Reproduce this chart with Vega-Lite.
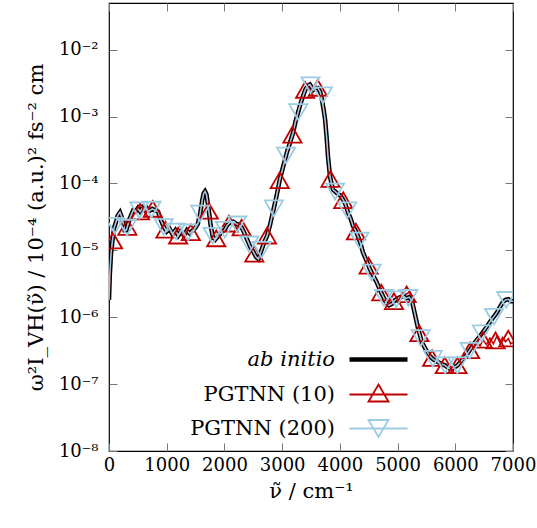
{
  "$schema": "https://vega.github.io/schema/vega-lite/v6.json",
  "width": 404,
  "height": 448,
  "autosize": {"type": "none"},
  "padding": {"left": 109, "top": 3, "right": 24, "bottom": 77},
  "config": {
    "view": {"stroke": "#000000", "strokeWidth": 1.2},
    "font": "DejaVu Serif",
    "axis": {
      "grid": false,
      "domain": false,
      "tickColor": "#777777",
      "tickWidth": 1,
      "tickSize": -8,
      "labelFont": "DejaVu Serif",
      "labelFontSize": 18,
      "labelColor": "#000000",
      "labelFlush": false,
      "labelOverlap": false,
      "titleFont": "DejaVu Serif",
      "titleFontSize": 21,
      "titleFontWeight": "normal",
      "titleColor": "#000000"
    }
  },
  "datasets": {
    "curves": [
      {"v": 0, "ab initio": 1.82e-6, "PGTNN (10)": 1.82e-6, "PGTNN (200)": 1.82e-6},
      {"v": 15, "ab initio": 4.47e-6, "PGTNN (10)": 4.47e-6, "PGTNN (200)": 4.47e-6},
      {"v": 35, "ab initio": 8.91e-6, "PGTNN (10)": 8.91e-6, "PGTNN (200)": 8.91e-6},
      {"v": 60, "ab initio": 1.41e-5, "PGTNN (10)": 1.41e-5, "PGTNN (200)": 1.41e-5},
      {"v": 90, "ab initio": 2.19e-5, "PGTNN (10)": 2.19e-5, "PGTNN (200)": 2.19e-5},
      {"v": 120, "ab initio": 2.63e-5, "PGTNN (10)": 2.63e-5, "PGTNN (200)": 2.63e-5},
      {"v": 150, "ab initio": 3.31e-5, "PGTNN (10)": 3.31e-5, "PGTNN (200)": 3.31e-5},
      {"v": 190, "ab initio": 3.72e-5, "PGTNN (10)": 3.72e-5, "PGTNN (200)": 3.72e-5},
      {"v": 230, "ab initio": 3.02e-5, "PGTNN (10)": 3.02e-5, "PGTNN (200)": 3.02e-5},
      {"v": 270, "ab initio": 2.0e-5, "PGTNN (10)": 2.0e-5, "PGTNN (200)": 2.0e-5},
      {"v": 300, "ab initio": 2.0e-5, "PGTNN (10)": 2.0e-5, "PGTNN (200)": 2.0e-5},
      {"v": 340, "ab initio": 2.63e-5, "PGTNN (10)": 2.63e-5, "PGTNN (200)": 2.63e-5},
      {"v": 380, "ab initio": 3.31e-5, "PGTNN (10)": 3.31e-5, "PGTNN (200)": 3.31e-5},
      {"v": 420, "ab initio": 3.98e-5, "PGTNN (10)": 3.98e-5, "PGTNN (200)": 3.98e-5},
      {"v": 460, "ab initio": 3.8e-5, "PGTNN (10)": 3.8e-5, "PGTNN (200)": 3.8e-5},
      {"v": 500, "ab initio": 4.27e-5, "PGTNN (10)": 4.27e-5, "PGTNN (200)": 4.27e-5},
      {"v": 540, "ab initio": 3.8e-5, "PGTNN (10)": 3.8e-5, "PGTNN (200)": 3.8e-5},
      {"v": 580, "ab initio": 4.37e-5, "PGTNN (10)": 4.37e-5, "PGTNN (200)": 4.37e-5},
      {"v": 620, "ab initio": 3.98e-5, "PGTNN (10)": 3.98e-5, "PGTNN (200)": 3.98e-5},
      {"v": 660, "ab initio": 4.27e-5, "PGTNN (10)": 4.27e-5, "PGTNN (200)": 4.27e-5},
      {"v": 700, "ab initio": 3.89e-5, "PGTNN (10)": 3.89e-5, "PGTNN (200)": 3.89e-5},
      {"v": 750, "ab initio": 4.17e-5, "PGTNN (10)": 4.17e-5, "PGTNN (200)": 4.17e-5},
      {"v": 800, "ab initio": 3.98e-5, "PGTNN (10)": 3.98e-5, "PGTNN (200)": 3.98e-5},
      {"v": 850, "ab initio": 3.8e-5, "PGTNN (10)": 3.8e-5, "PGTNN (200)": 3.8e-5},
      {"v": 900, "ab initio": 2.82e-5, "PGTNN (10)": 2.82e-5, "PGTNN (200)": 2.82e-5},
      {"v": 950, "ab initio": 2.24e-5, "PGTNN (10)": 2.24e-5, "PGTNN (200)": 2.24e-5},
      {"v": 1000, "ab initio": 1.91e-5, "PGTNN (10)": 1.91e-5, "PGTNN (200)": 1.91e-5},
      {"v": 1050, "ab initio": 2.09e-5, "PGTNN (10)": 2.09e-5, "PGTNN (200)": 2.09e-5},
      {"v": 1100, "ab initio": 1.74e-5, "PGTNN (10)": 1.74e-5, "PGTNN (200)": 1.74e-5},
      {"v": 1150, "ab initio": 2.0e-5, "PGTNN (10)": 2.0e-5, "PGTNN (200)": 2.0e-5},
      {"v": 1200, "ab initio": 1.66e-5, "PGTNN (10)": 1.66e-5, "PGTNN (200)": 1.66e-5},
      {"v": 1250, "ab initio": 1.91e-5, "PGTNN (10)": 1.91e-5, "PGTNN (200)": 1.91e-5},
      {"v": 1300, "ab initio": 1.66e-5, "PGTNN (10)": 1.66e-5, "PGTNN (200)": 1.66e-5},
      {"v": 1350, "ab initio": 2.0e-5, "PGTNN (10)": 2.0e-5, "PGTNN (200)": 2.0e-5},
      {"v": 1400, "ab initio": 1.78e-5, "PGTNN (10)": 1.78e-5, "PGTNN (200)": 1.78e-5},
      {"v": 1450, "ab initio": 2.0e-5, "PGTNN (10)": 2.0e-5, "PGTNN (200)": 2.0e-5},
      {"v": 1500, "ab initio": 2.19e-5, "PGTNN (10)": 2.19e-5, "PGTNN (200)": 2.19e-5},
      {"v": 1540, "ab initio": 2.51e-5, "PGTNN (10)": 2.51e-5, "PGTNN (200)": 2.51e-5},
      {"v": 1580, "ab initio": 3.55e-5, "PGTNN (10)": 3.55e-5, "PGTNN (200)": 3.55e-5},
      {"v": 1615, "ab initio": 5.6e-5, "PGTNN (10)": 5.6e-5, "PGTNN (200)": 5.6e-5},
      {"v": 1640, "ab initio": 7.1e-5, "PGTNN (10)": 7.1e-5, "PGTNN (200)": 7.1e-5},
      {"v": 1664, "ab initio": 7.6e-5, "PGTNN (10)": 7.6e-5, "PGTNN (200)": 7.6e-5},
      {"v": 1688, "ab initio": 6.9e-5, "PGTNN (10)": 6.9e-5, "PGTNN (200)": 6.9e-5},
      {"v": 1710, "ab initio": 5.2e-5, "PGTNN (10)": 5.2e-5, "PGTNN (200)": 5.2e-5},
      {"v": 1735, "ab initio": 3.6e-5, "PGTNN (10)": 3.6e-5, "PGTNN (200)": 3.6e-5},
      {"v": 1760, "ab initio": 2.4e-5, "PGTNN (10)": 2.4e-5, "PGTNN (200)": 2.4e-5},
      {"v": 1800, "ab initio": 1.58e-5, "PGTNN (10)": 1.58e-5, "PGTNN (200)": 1.58e-5},
      {"v": 1840, "ab initio": 1.45e-5, "PGTNN (10)": 1.45e-5, "PGTNN (200)": 1.45e-5},
      {"v": 1880, "ab initio": 1.58e-5, "PGTNN (10)": 1.58e-5, "PGTNN (200)": 1.58e-5},
      {"v": 1920, "ab initio": 1.74e-5, "PGTNN (10)": 1.74e-5, "PGTNN (200)": 1.74e-5},
      {"v": 1960, "ab initio": 1.91e-5, "PGTNN (10)": 1.91e-5, "PGTNN (200)": 1.91e-5},
      {"v": 2000, "ab initio": 2.0e-5, "PGTNN (10)": 2.0e-5, "PGTNN (200)": 2.0e-5},
      {"v": 2050, "ab initio": 2.4e-5, "PGTNN (10)": 2.4e-5, "PGTNN (200)": 2.4e-5},
      {"v": 2100, "ab initio": 2.63e-5, "PGTNN (10)": 2.63e-5, "PGTNN (200)": 2.63e-5},
      {"v": 2150, "ab initio": 2.69e-5, "PGTNN (10)": 2.69e-5, "PGTNN (200)": 2.69e-5},
      {"v": 2200, "ab initio": 2.51e-5, "PGTNN (10)": 2.51e-5, "PGTNN (200)": 2.51e-5},
      {"v": 2250, "ab initio": 2.4e-5, "PGTNN (10)": 2.4e-5, "PGTNN (200)": 2.4e-5},
      {"v": 2300, "ab initio": 2.19e-5, "PGTNN (10)": 2.19e-5, "PGTNN (200)": 2.19e-5},
      {"v": 2350, "ab initio": 1.78e-5, "PGTNN (10)": 1.78e-5, "PGTNN (200)": 1.78e-5},
      {"v": 2400, "ab initio": 1.41e-5, "PGTNN (10)": 1.41e-5, "PGTNN (200)": 1.41e-5},
      {"v": 2450, "ab initio": 1.12e-5, "PGTNN (10)": 1.12e-5, "PGTNN (200)": 1.12e-5},
      {"v": 2500, "ab initio": 9.55e-6, "PGTNN (10)": 9.55e-6, "PGTNN (200)": 9.55e-6},
      {"v": 2550, "ab initio": 7.94e-6, "PGTNN (10)": 7.94e-6, "PGTNN (200)": 7.94e-6},
      {"v": 2590, "ab initio": 7.41e-6, "PGTNN (10)": 7.41e-6, "PGTNN (200)": 7.41e-6},
      {"v": 2640, "ab initio": 1.0e-5, "PGTNN (10)": 1.0e-5, "PGTNN (200)": 1.0e-5},
      {"v": 2690, "ab initio": 1.32e-5, "PGTNN (10)": 1.32e-5, "PGTNN (200)": 1.32e-5},
      {"v": 2740, "ab initio": 1.66e-5, "PGTNN (10)": 1.66e-5, "PGTNN (200)": 1.66e-5},
      {"v": 2790, "ab initio": 2.4e-5, "PGTNN (10)": 2.4e-5, "PGTNN (200)": 2.4e-5},
      {"v": 2840, "ab initio": 3.72e-5, "PGTNN (10)": 3.72e-5, "PGTNN (200)": 3.72e-5},
      {"v": 2900, "ab initio": 6.31e-5, "PGTNN (10)": 6.31e-5, "PGTNN (200)": 6.31e-5},
      {"v": 2960, "ab initio": 1.15e-4, "PGTNN (10)": 1.15e-4, "PGTNN (200)": 1.15e-4},
      {"v": 3020, "ab initio": 1.82e-4, "PGTNN (10)": 1.82e-4, "PGTNN (200)": 1.82e-4},
      {"v": 3080, "ab initio": 2.88e-4, "PGTNN (10)": 2.88e-4, "PGTNN (200)": 2.88e-4},
      {"v": 3140, "ab initio": 4.17e-4, "PGTNN (10)": 4.17e-4, "PGTNN (200)": 4.17e-4},
      {"v": 3190, "ab initio": 5.75e-4, "PGTNN (10)": 5.75e-4, "PGTNN (200)": 5.75e-4},
      {"v": 3230, "ab initio": 8.32e-4, "PGTNN (10)": 8.32e-4, "PGTNN (200)": 8.32e-4},
      {"v": 3275, "ab initio": 1.15e-3, "PGTNN (10)": 1.15e-3, "PGTNN (200)": 1.15e-3},
      {"v": 3320, "ab initio": 1.58e-3, "PGTNN (10)": 1.58e-3, "PGTNN (200)": 1.58e-3},
      {"v": 3360, "ab initio": 2.0e-3, "PGTNN (10)": 2.0e-3, "PGTNN (200)": 2.0e-3},
      {"v": 3400, "ab initio": 2.51e-3, "PGTNN (10)": 2.51e-3, "PGTNN (200)": 2.51e-3},
      {"v": 3440, "ab initio": 2.88e-3, "PGTNN (10)": 2.88e-3, "PGTNN (200)": 2.88e-3},
      {"v": 3480, "ab initio": 3.02e-3, "PGTNN (10)": 3.02e-3, "PGTNN (200)": 3.02e-3},
      {"v": 3510, "ab initio": 2.75e-3, "PGTNN (10)": 2.75e-3, "PGTNN (200)": 2.75e-3},
      {"v": 3540, "ab initio": 2.51e-3, "PGTNN (10)": 2.51e-3, "PGTNN (200)": 2.51e-3},
      {"v": 3580, "ab initio": 2.69e-3, "PGTNN (10)": 2.69e-3, "PGTNN (200)": 2.69e-3},
      {"v": 3620, "ab initio": 2.69e-3, "PGTNN (10)": 2.69e-3, "PGTNN (200)": 2.69e-3},
      {"v": 3660, "ab initio": 2.34e-3, "PGTNN (10)": 2.34e-3, "PGTNN (200)": 2.34e-3},
      {"v": 3690, "ab initio": 1.78e-3, "PGTNN (10)": 1.78e-3, "PGTNN (200)": 1.78e-3},
      {"v": 3720, "ab initio": 1.26e-3, "PGTNN (10)": 1.26e-3, "PGTNN (200)": 1.26e-3},
      {"v": 3745, "ab initio": 8.91e-4, "PGTNN (10)": 8.91e-4, "PGTNN (200)": 8.91e-4},
      {"v": 3770, "ab initio": 5.01e-4, "PGTNN (10)": 5.01e-4, "PGTNN (200)": 5.01e-4},
      {"v": 3795, "ab initio": 2.51e-4, "PGTNN (10)": 2.51e-4, "PGTNN (200)": 2.51e-4},
      {"v": 3830, "ab initio": 1.26e-4, "PGTNN (10)": 1.26e-4, "PGTNN (200)": 1.26e-4},
      {"v": 3880, "ab initio": 8.13e-5, "PGTNN (10)": 8.13e-5, "PGTNN (200)": 8.13e-5},
      {"v": 3920, "ab initio": 7.59e-5, "PGTNN (10)": 7.59e-5, "PGTNN (200)": 7.59e-5},
      {"v": 3970, "ab initio": 6.92e-5, "PGTNN (10)": 6.92e-5, "PGTNN (200)": 6.92e-5},
      {"v": 4010, "ab initio": 6.61e-5, "PGTNN (10)": 6.61e-5, "PGTNN (200)": 6.61e-5},
      {"v": 4055, "ab initio": 5.75e-5, "PGTNN (10)": 5.75e-5, "PGTNN (200)": 5.75e-5},
      {"v": 4100, "ab initio": 4.79e-5, "PGTNN (10)": 4.79e-5, "PGTNN (200)": 4.79e-5},
      {"v": 4140, "ab initio": 3.72e-5, "PGTNN (10)": 3.72e-5, "PGTNN (200)": 3.72e-5},
      {"v": 4185, "ab initio": 3.02e-5, "PGTNN (10)": 3.02e-5, "PGTNN (200)": 3.02e-5},
      {"v": 4230, "ab initio": 2.29e-5, "PGTNN (10)": 2.29e-5, "PGTNN (200)": 2.29e-5},
      {"v": 4270, "ab initio": 2.0e-5, "PGTNN (10)": 2.0e-5, "PGTNN (200)": 2.0e-5},
      {"v": 4315, "ab initio": 1.62e-5, "PGTNN (10)": 1.62e-5, "PGTNN (200)": 1.62e-5},
      {"v": 4360, "ab initio": 1.26e-5, "PGTNN (10)": 1.26e-5, "PGTNN (200)": 1.26e-5},
      {"v": 4400, "ab initio": 9.33e-6, "PGTNN (10)": 9.33e-6, "PGTNN (200)": 9.33e-6},
      {"v": 4460, "ab initio": 7.08e-6, "PGTNN (10)": 7.08e-6, "PGTNN (200)": 7.08e-6},
      {"v": 4520, "ab initio": 5.25e-6, "PGTNN (10)": 5.25e-6, "PGTNN (200)": 5.25e-6},
      {"v": 4580, "ab initio": 4.17e-6, "PGTNN (10)": 4.17e-6, "PGTNN (200)": 4.17e-6},
      {"v": 4640, "ab initio": 3.31e-6, "PGTNN (10)": 3.31e-6, "PGTNN (200)": 3.31e-6},
      {"v": 4700, "ab initio": 2.51e-6, "PGTNN (10)": 2.51e-6, "PGTNN (200)": 2.51e-6},
      {"v": 4750, "ab initio": 2.04e-6, "PGTNN (10)": 2.04e-6, "PGTNN (200)": 2.04e-6},
      {"v": 4800, "ab initio": 1.66e-6, "PGTNN (10)": 1.66e-6, "PGTNN (200)": 1.66e-6},
      {"v": 4850, "ab initio": 1.51e-6, "PGTNN (10)": 1.51e-6, "PGTNN (200)": 1.51e-6},
      {"v": 4900, "ab initio": 1.58e-6, "PGTNN (10)": 1.58e-6, "PGTNN (200)": 1.58e-6},
      {"v": 4950, "ab initio": 1.78e-6, "PGTNN (10)": 1.78e-6, "PGTNN (200)": 1.78e-6},
      {"v": 5000, "ab initio": 1.91e-6, "PGTNN (10)": 1.91e-6, "PGTNN (200)": 1.91e-6},
      {"v": 5050, "ab initio": 2.0e-6, "PGTNN (10)": 2.1e-6, "PGTNN (200)": 2.0e-6},
      {"v": 5100, "ab initio": 2.09e-6, "PGTNN (10)": 2.3e-6, "PGTNN (200)": 2.09e-6},
      {"v": 5150, "ab initio": 1.91e-6, "PGTNN (10)": 2.2e-6, "PGTNN (200)": 1.91e-6},
      {"v": 5200, "ab initio": 2.0e-6, "PGTNN (10)": 2.4e-6, "PGTNN (200)": 2.0e-6},
      {"v": 5250, "ab initio": 1.74e-6, "PGTNN (10)": 2.0e-6, "PGTNN (200)": 1.74e-6},
      {"v": 5300, "ab initio": 1.12e-6, "PGTNN (10)": 1.12e-6, "PGTNN (200)": 1.12e-6},
      {"v": 5350, "ab initio": 7.08e-7, "PGTNN (10)": 7.08e-7, "PGTNN (200)": 7.08e-7},
      {"v": 5420, "ab initio": 4.27e-7, "PGTNN (10)": 4.27e-7, "PGTNN (200)": 4.27e-7},
      {"v": 5500, "ab initio": 3.16e-7, "PGTNN (10)": 3.16e-7, "PGTNN (200)": 3.16e-7},
      {"v": 5560, "ab initio": 2.63e-7, "PGTNN (10)": 2.63e-7, "PGTNN (200)": 2.63e-7},
      {"v": 5620, "ab initio": 2.34e-7, "PGTNN (10)": 2.34e-7, "PGTNN (200)": 2.34e-7},
      {"v": 5700, "ab initio": 2.14e-7, "PGTNN (10)": 2.14e-7, "PGTNN (200)": 2.14e-7},
      {"v": 5760, "ab initio": 2.0e-7, "PGTNN (10)": 2.0e-7, "PGTNN (200)": 2.0e-7},
      {"v": 5820, "ab initio": 1.91e-7, "PGTNN (10)": 1.91e-7, "PGTNN (200)": 1.91e-7},
      {"v": 5880, "ab initio": 1.74e-7, "PGTNN (10)": 1.74e-7, "PGTNN (200)": 1.74e-7},
      {"v": 5940, "ab initio": 1.66e-7, "PGTNN (10)": 1.66e-7, "PGTNN (200)": 1.66e-7},
      {"v": 6000, "ab initio": 1.82e-7, "PGTNN (10)": 1.82e-7, "PGTNN (200)": 1.82e-7},
      {"v": 6040, "ab initio": 1.91e-7, "PGTNN (10)": 1.91e-7, "PGTNN (200)": 1.91e-7},
      {"v": 6100, "ab initio": 2.19e-7, "PGTNN (10)": 2.19e-7, "PGTNN (200)": 2.19e-7},
      {"v": 6140, "ab initio": 2.4e-7, "PGTNN (10)": 2.4e-7, "PGTNN (200)": 2.4e-7},
      {"v": 6200, "ab initio": 2.75e-7, "PGTNN (10)": 2.75e-7, "PGTNN (200)": 2.75e-7},
      {"v": 6260, "ab initio": 3.31e-7, "PGTNN (10)": 3.2e-7, "PGTNN (200)": 3.31e-7},
      {"v": 6320, "ab initio": 3.98e-7, "PGTNN (10)": 3.6e-7, "PGTNN (200)": 3.98e-7},
      {"v": 6380, "ab initio": 4.68e-7, "PGTNN (10)": 4.2e-7, "PGTNN (200)": 4.68e-7},
      {"v": 6430, "ab initio": 5.25e-7, "PGTNN (10)": 3.7e-7, "PGTNN (200)": 5.25e-7},
      {"v": 6480, "ab initio": 6.03e-7, "PGTNN (10)": 4.6e-7, "PGTNN (200)": 6.03e-7},
      {"v": 6540, "ab initio": 7.08e-7, "PGTNN (10)": 3.9e-7, "PGTNN (200)": 7.08e-7},
      {"v": 6600, "ab initio": 8.51e-7, "PGTNN (10)": 4.9e-7, "PGTNN (200)": 8.51e-7},
      {"v": 6660, "ab initio": 1.0e-6, "PGTNN (10)": 4.0e-7, "PGTNN (200)": 1.0e-6},
      {"v": 6720, "ab initio": 1.17e-6, "PGTNN (10)": 5.2e-7, "PGTNN (200)": 1.17e-6},
      {"v": 6770, "ab initio": 1.41e-6, "PGTNN (10)": 4.2e-7, "PGTNN (200)": 1.41e-6},
      {"v": 6820, "ab initio": 1.66e-6, "PGTNN (10)": 5.0e-7, "PGTNN (200)": 1.66e-6},
      {"v": 6870, "ab initio": 1.82e-6, "PGTNN (10)": 4.3e-7, "PGTNN (200)": 1.82e-6},
      {"v": 6920, "ab initio": 1.86e-6, "PGTNN (10)": 4.8e-7, "PGTNN (200)": 1.86e-6},
      {"v": 6960, "ab initio": 1.74e-6, "PGTNN (10)": 4.0e-7, "PGTNN (200)": 1.74e-6},
      {"v": 7000, "ab initio": 1.74e-6, "PGTNN (10)": 4.2e-7, "PGTNN (200)": 1.74e-6}
    ],
    "markers": [
      {"series": "PGTNN (10)", "v": 70, "y": 1.4e-5},
      {"series": "PGTNN (10)", "v": 318, "y": 2.24e-5},
      {"series": "PGTNN (10)", "v": 538, "y": 3.8e-5},
      {"series": "PGTNN (10)", "v": 758, "y": 4.17e-5},
      {"series": "PGTNN (10)", "v": 978, "y": 2.04e-5},
      {"series": "PGTNN (10)", "v": 1198, "y": 1.66e-5},
      {"series": "PGTNN (10)", "v": 1418, "y": 1.86e-5},
      {"series": "PGTNN (10)", "v": 1730, "y": 3.9e-5},
      {"series": "PGTNN (10)", "v": 1858, "y": 1.51e-5},
      {"series": "PGTNN (10)", "v": 2078, "y": 2.51e-5},
      {"series": "PGTNN (10)", "v": 2298, "y": 2.19e-5},
      {"series": "PGTNN (10)", "v": 2518, "y": 8.91e-6},
      {"series": "PGTNN (10)", "v": 2738, "y": 1.66e-5},
      {"series": "PGTNN (10)", "v": 2958, "y": 1.12e-4},
      {"series": "PGTNN (10)", "v": 3178, "y": 5.37e-4},
      {"series": "PGTNN (10)", "v": 3398, "y": 2.51e-3},
      {"series": "PGTNN (10)", "v": 3618, "y": 2.69e-3},
      {"series": "PGTNN (10)", "v": 3838, "y": 1.17e-4},
      {"series": "PGTNN (10)", "v": 4058, "y": 5.62e-5},
      {"series": "PGTNN (10)", "v": 4278, "y": 1.91e-5},
      {"series": "PGTNN (10)", "v": 4498, "y": 5.89e-6},
      {"series": "PGTNN (10)", "v": 4718, "y": 2.34e-6},
      {"series": "PGTNN (10)", "v": 4938, "y": 1.74e-6},
      {"series": "PGTNN (10)", "v": 5158, "y": 2.2e-6},
      {"series": "PGTNN (10)", "v": 5378, "y": 5.75e-7},
      {"series": "PGTNN (10)", "v": 5598, "y": 2.45e-7},
      {"series": "PGTNN (10)", "v": 5818, "y": 1.91e-7},
      {"series": "PGTNN (10)", "v": 6038, "y": 1.91e-7},
      {"series": "PGTNN (10)", "v": 6258, "y": 3.2e-7},
      {"series": "PGTNN (10)", "v": 6478, "y": 4.6e-7},
      {"series": "PGTNN (10)", "v": 6698, "y": 4.5e-7},
      {"series": "PGTNN (10)", "v": 6918, "y": 4.8e-7},
      {"series": "PGTNN (200)", "v": 100, "y": 2.34e-5},
      {"series": "PGTNN (200)", "v": 312, "y": 2.19e-5},
      {"series": "PGTNN (200)", "v": 524, "y": 3.98e-5},
      {"series": "PGTNN (200)", "v": 736, "y": 4.07e-5},
      {"series": "PGTNN (200)", "v": 948, "y": 2.24e-5},
      {"series": "PGTNN (200)", "v": 1160, "y": 1.91e-5},
      {"series": "PGTNN (200)", "v": 1372, "y": 1.86e-5},
      {"series": "PGTNN (200)", "v": 1580, "y": 3.55e-5},
      {"series": "PGTNN (200)", "v": 1796, "y": 1.66e-5},
      {"series": "PGTNN (200)", "v": 2008, "y": 2.04e-5},
      {"series": "PGTNN (200)", "v": 2220, "y": 2.45e-5},
      {"series": "PGTNN (200)", "v": 2432, "y": 1.23e-5},
      {"series": "PGTNN (200)", "v": 2644, "y": 1.02e-5},
      {"series": "PGTNN (200)", "v": 2856, "y": 4.27e-5},
      {"series": "PGTNN (200)", "v": 3068, "y": 2.63e-4},
      {"series": "PGTNN (200)", "v": 3280, "y": 1.17e-3},
      {"series": "PGTNN (200)", "v": 3492, "y": 2.95e-3},
      {"series": "PGTNN (200)", "v": 3704, "y": 2.09e-3},
      {"series": "PGTNN (200)", "v": 3916, "y": 7.59e-5},
      {"series": "PGTNN (200)", "v": 4128, "y": 3.98e-5},
      {"series": "PGTNN (200)", "v": 4340, "y": 1.41e-5},
      {"series": "PGTNN (200)", "v": 4552, "y": 4.68e-6},
      {"series": "PGTNN (200)", "v": 4764, "y": 1.95e-6},
      {"series": "PGTNN (200)", "v": 4976, "y": 1.86e-6},
      {"series": "PGTNN (200)", "v": 5188, "y": 1.95e-6},
      {"series": "PGTNN (200)", "v": 5400, "y": 4.9e-7},
      {"series": "PGTNN (200)", "v": 5612, "y": 2.4e-7},
      {"series": "PGTNN (200)", "v": 5824, "y": 1.91e-7},
      {"series": "PGTNN (200)", "v": 6036, "y": 1.91e-7},
      {"series": "PGTNN (200)", "v": 6248, "y": 3.16e-7},
      {"series": "PGTNN (200)", "v": 6460, "y": 5.75e-7},
      {"series": "PGTNN (200)", "v": 6672, "y": 1.02e-6},
      {"series": "PGTNN (200)", "v": 6884, "y": 1.82e-6}
    ]
  },
  "layer": [
    {
      "data": {"name": "curves"},
      "transform": [{"fold": ["ab initio"], "as": ["series", "y"]}],
      "mark": {"type": "line", "strokeWidth": 4.5, "clip": true},
      "encoding": {
        "x": {"field": "v", "type": "quantitative", "scale": {"domain": [0, 7000], "nice": false},
              "axis": {"orient": "bottom", "values": [0, 1000, 2000, 3000, 4000, 5000, 6000, 7000], "format": "d", "title": "ν̃ / cm⁻¹", "labelPadding": 13, "titlePadding": 6}},
        "y": {"field": "y", "type": "quantitative", "scale": {"type": "log", "domain": [1e-8, 0.05], "nice": false},
              "axis": {"orient": "left", "values": [1e-8, 1e-7, 1e-6, 1e-5, 1e-4, 1e-3, 1e-2],
                       "labelExpr": "'10⁻' + ['⁰','¹','²','³','⁴','⁵','⁶','⁷','⁸','⁹'][round(-log(datum.value)/LN10)]",
                       "title": "ω²I_VH(ν̃) / 10⁻⁴ (a.u.)² fs⁻² cm", "labelPadding": 19, "titlePadding": 12}},
        "color": {"field": "series", "type": "nominal",
                  "scale": {"domain": ["ab initio", "PGTNN (10)", "PGTNN (200)"], "range": ["#000000", "#c00000", "#9ccbe4"]},
                  "legend": {
                    "orient": "none", "legendX": 259, "legendY": 346, "title": null,
                    "symbolSize": 400, "symbolStrokeWidth": 1.5, "labelAlign": "right", "labelOffset": -54,
                    "labelFont": "DejaVu Serif", "labelFontSize": 21, "labelColor": "#000000", "labelLimit": 300,
                    "rowPadding": 10, "padding": 0,
                    "encode": {
                      "symbols": {"update": {
                        "shape": {"signal": "datum.value === 'ab initio' ? 'M-2.9,0H2.9' : (datum.value === 'PGTNN (10)' ? 'M-2.9,0H2.9M-1,0.7L1,0.7L0,-1Z' : 'M-2.9,0H2.9M-1,-0.85L1,-0.85L0,0.85Z')"},
                        "strokeWidth": {"signal": "datum.value === 'ab initio' ? 4.5 : 1.8"},
                        "stroke": {"scale": "color", "field": "value"},
                        "fill": {"value": "transparent"},
                        "opacity": {"value": 1}
                      }},
                      "labels": {"update": {"fontStyle": {"signal": "datum.value === 'ab initio' ? 'italic' : 'normal'"}}}
                    }
                  }}
      }
    },
    {
      "data": {"name": "curves"},
      "transform": [{"fold": ["PGTNN (10)"], "as": ["series", "y"]}],
      "mark": {"type": "line", "strokeWidth": 1.5, "clip": true},
      "encoding": {
        "x": {"field": "v", "type": "quantitative", "axis": {"orient": "top", "values": [0, 1000, 2000, 3000, 4000, 5000, 6000, 7000], "labels": false, "title": null}},
        "y": {"field": "y", "type": "quantitative", "axis": {"orient": "right", "values": [1e-8, 1e-7, 1e-6, 1e-5, 1e-4, 1e-3, 1e-2], "labels": false, "title": null}},
        "color": {"field": "series", "type": "nominal", "legend": null}
      }
    },
    {
      "data": {"name": "curves"},
      "transform": [{"fold": ["PGTNN (200)"], "as": ["series", "y"]}],
      "mark": {"type": "line", "strokeWidth": 1.5, "clip": true},
      "encoding": {
        "x": {"field": "v", "type": "quantitative", "axis": null},
        "y": {"field": "y", "type": "quantitative", "axis": null},
        "color": {"field": "series", "type": "nominal", "legend": null}
      }
    },
    {
      "data": {"name": "markers"},
      "transform": [{"filter": "datum.series === 'PGTNN (10)'"}],
      "mark": {"type": "point", "shape": "triangle-up", "filled": false, "size": 330, "strokeWidth": 1.8, "opacity": 1, "clip": true},
      "encoding": {
        "x": {"field": "v", "type": "quantitative", "axis": null},
        "y": {"field": "y", "type": "quantitative", "axis": null},
        "color": {"field": "series", "type": "nominal", "legend": null}
      }
    },
    {
      "data": {"name": "markers"},
      "transform": [{"filter": "datum.series === 'PGTNN (200)'"}],
      "mark": {"type": "point", "shape": "triangle-down", "filled": false, "size": 330, "strokeWidth": 1.8, "opacity": 1, "clip": true},
      "encoding": {
        "x": {"field": "v", "type": "quantitative", "axis": null},
        "y": {"field": "y", "type": "quantitative", "axis": null},
        "color": {"field": "series", "type": "nominal", "legend": null}
      }
    }
  ],
  "resolve": {"axis": {"x": "independent", "y": "independent"}}
}
